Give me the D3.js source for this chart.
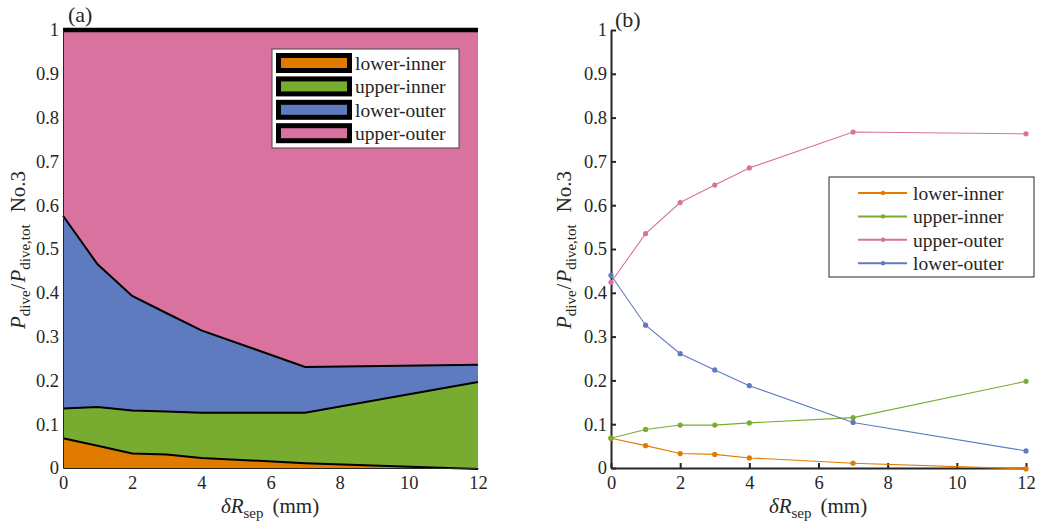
<!DOCTYPE html>
<html lang="en">
<head>
<meta charset="UTF-8">
<title>dive power fractions No.3</title>
<script src="https://cdnjs.cloudflare.com/ajax/libs/d3/7.8.5/d3.min.js"></script>
<style>
  body{margin:0;background:#fff;}
  text{font-family:'Liberation Serif','DejaVu Serif',serif;fill:#262626;}
  .tick text{font-size:18.5px;}
  .lbl{font-size:21px;}
</style>
</head>
<body>
<svg width="1040" height="524"></svg>
<script>
// separation values (mm)
const dRsep = [0, 1, 2, 3, 4, 7, 12];
// fractions
const lowerInner = [0.068, 0.051, 0.033, 0.031, 0.023, 0.011, -0.002];
const upperInner = [0.068, 0.088, 0.098, 0.098, 0.103, 0.115, 0.198];
const upperOuter = [0.424, 0.535, 0.606, 0.646, 0.685, 0.767, 0.763];
const lowerOuter = [0.440, 0.326, 0.261, 0.224, 0.188, 0.104, 0.039];

const names = ["lower-inner", "upper-inner", "lower-outer", "upper-outer"];
const colors = {"lower-inner":"#E07B00", "upper-inner":"#77AC30", "lower-outer":"#5E7BC0", "upper-outer":"#D9729F"};
const seriesB = [
  {name:"lower-inner", vals:lowerInner},
  {name:"upper-inner", vals:upperInner},
  {name:"upper-outer", vals:upperOuter},
  {name:"lower-outer", vals:lowerOuter}
];

const svg = d3.select("svg");
const yS = d3.scaleLinear().domain([0, 1]).range([468, 30]);
const xA = d3.scaleLinear().domain([0, 12]).range([63, 478]);
const xB = d3.scaleLinear().domain([0, 12]).range([611, 1026]);
const fmt = d3.format("~g");

// ---- panel (a): stacked areas ----
const table = dRsep.map((x, i) => ({x: x,
  "lower-inner": lowerInner[i], "upper-inner": upperInner[i],
  "lower-outer": lowerOuter[i], "upper-outer": upperOuter[i]}));
const stack = d3.stack().keys(names).offset(d3.stackOffsetExpand)(table);

const gA = svg.append("g");
gA.selectAll("path.area").data(stack).join("path").attr("class", "area")
  .attr("fill", d => colors[d.key])
  .attr("d", d3.area().x(d => xA(d.data.x)).y0(d => yS(d[0])).y1(d => yS(d[1])));
gA.selectAll("path.edge").data(stack).join("path").attr("class", "edge")
  .attr("fill", "none").attr("stroke", "#000")
  .attr("stroke-width", (d, i) => i === names.length - 1 ? 4.5 : 2)
  .attr("d", d3.line().x(d => xA(d.data.x)).y(d => yS(d[1])));

const axAy = gA.append("g").attr("transform", `translate(${xA(0)},0)`)
  .call(d3.axisLeft(yS).ticks(10).tickFormat(fmt).tickSize(0).tickPadding(4));
const axAx = gA.append("g").attr("transform", `translate(0,${yS(0)})`)
  .call(d3.axisBottom(xA).ticks(6).tickSize(0).tickPadding(8));
[axAy, axAx].forEach(g => g.select(".domain").attr("stroke", "#262626").attr("stroke-width", 1));

// legend (a)
const legA = gA.append("g").attr("transform", "translate(272,49)");
legA.append("rect").attr("width", 187).attr("height", 99)
  .attr("fill", "#fff").attr("stroke", "#444").attr("stroke-width", 1);
legA.selectAll("rect.sw").data(names).join("rect").attr("class", "sw")
  .attr("x", 6.5).attr("y", (d, i) => 6.5 + i * 23.4)
  .attr("width", 71).attr("height", 15)
  .attr("fill", d => colors[d]).attr("stroke", "#000").attr("stroke-width", 5);
legA.selectAll("text").data(names).join("text")
  .attr("x", 83).attr("y", (d, i) => 14 + i * 23.4).attr("dy", "0.35em")
  .attr("font-size", 19.5).text(d => d);

// ---- panel (b): lines ----
const gB = svg.append("g");
const axBy = gB.append("g").attr("transform", `translate(${xB(0)},0)`)
  .call(d3.axisLeft(yS).ticks(10).tickFormat(fmt).tickSizeInner(-5).tickSizeOuter(0).tickPadding(4));
const axBx = gB.append("g").attr("transform", `translate(0,${yS(0)})`)
  .call(d3.axisBottom(xB).ticks(6).tickSizeInner(-5).tickSizeOuter(0).tickPadding(8));
[axBy, axBx].forEach(g => {
  g.select(".domain").attr("stroke", "#262626").attr("stroke-width", 2);
  g.selectAll(".tick line").attr("stroke", "#262626").attr("stroke-width", 2);
});

const lineB = d3.line().x((d, i) => xB(dRsep[i])).y(d => yS(d));
seriesB.forEach(s => {
  gB.append("path").attr("fill", "none").attr("stroke", colors[s.name])
    .attr("stroke-width", 1.1).attr("d", lineB(s.vals));
  gB.selectAll(null).data(s.vals).join("circle")
    .attr("cx", (d, i) => xB(dRsep[i])).attr("cy", d => yS(d))
    .attr("r", 2.6).attr("fill", colors[s.name]);
});

// legend (b)
const legB = gB.append("g").attr("transform", "translate(829,177)");
legB.append("rect").attr("width", 205).attr("height", 100)
  .attr("fill", "#fff").attr("stroke", "#262626").attr("stroke-width", 1);
seriesB.forEach((s, i) => {
  const yy = 16 + i * 23.4;
  legB.append("line").attr("x1", 29).attr("x2", 78).attr("y1", yy).attr("y2", yy)
    .attr("stroke", colors[s.name]).attr("stroke-width", 2);
  legB.append("circle").attr("cx", 54).attr("cy", yy).attr("r", 2.2).attr("fill", colors[s.name]);
  legB.append("text").attr("x", 84).attr("y", yy).attr("dy", "0.35em")
    .attr("font-size", 19.5).text(s.name);
});

// ---- labels ----
function yLabel(cx, cy) {
  const t = svg.append("text").attr("class", "lbl")
    .attr("transform", `translate(${cx},${cy}) rotate(-90)`)
    .attr("text-anchor", "middle");
  t.append("tspan").attr("font-style", "italic").text("P");
  t.append("tspan").attr("font-size", 15).attr("dy", 5).text("dive");
  t.append("tspan").attr("dy", -5).attr("dx", 1).text("/");
  t.append("tspan").attr("font-style", "italic").attr("dx", 1).text("P");
  t.append("tspan").attr("font-size", 15).attr("dy", 5).text("dive,tot");
  t.append("tspan").attr("dy", -5).attr("dx", 12).text("No.3");
}
function xLabel(cx, cy) {
  const t = svg.append("text").attr("class", "lbl")
    .attr("x", cx).attr("y", cy).attr("text-anchor", "middle");
  t.append("tspan").attr("font-style", "italic").text("\u03B4R");
  t.append("tspan").attr("font-size", 15).attr("dy", 5).text("sep");
  t.append("tspan").attr("dy", -5).attr("dx", 9).text("(mm)");
}
yLabel(25, 250);
yLabel(571, 250);
xLabel(270, 513);
xLabel(818, 513);

svg.append("text").attr("x", 68).attr("y", 22).attr("font-size", 22).text("(a)");
svg.append("text").attr("x", 615).attr("y", 27).attr("font-size", 22).text("(b)");
</script>
</body>
</html>
